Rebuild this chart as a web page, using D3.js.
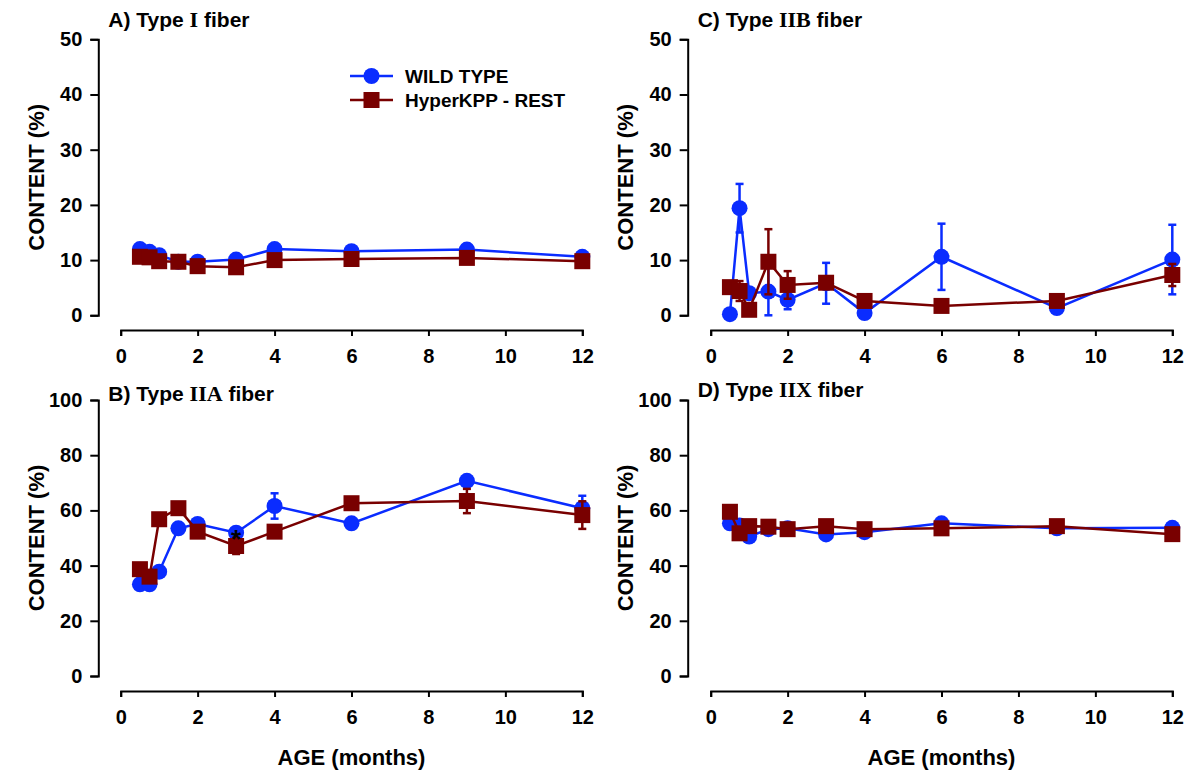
<!DOCTYPE html>
<html lang="en">
<head>
<meta charset="utf-8">
<title>Fiber type content by age</title>
<script src="https://d3js.org/d3.v7.min.js"></script>
<style>
body { margin: 0; background: #fff; }
svg { display: block; font-family: "Liberation Sans", Arial, sans-serif; font-weight: bold; }
.axis path, .axis line { stroke: #000; stroke-width: 2; }
.axis text { font-size: 20px; font-weight: bold; fill: #000; }
</style>
</head>
<body>
<script>

// ages (months)
var ages = [0.5, 0.75, 1, 1.5, 2, 3, 4, 6, 9, 12];
var xTicks = [0, 2, 4, 6, 8, 10, 12];

// A) Type I
var wtI = [12.0, 11.5, 10.9, 9.7, 9.7, 10.1, 12.0, 11.6, 11.9, 10.6];
var hkI = [10.6, 10.5, 9.8, 9.7, 8.9, 8.7, 10.0, 10.2, 10.4, 9.8];
// C) Type IIB
var wtIIB = [0.2, 19.4, 4.0, 4.3, 2.8, 5.8, 0.4, 10.6, 1.3, 10.1];
var wtIIBerr = [0, 4.4, 0, 4.3, 1.7, 3.7, 0, 6.0, 0, 6.3];
var hkIIB = [5.1, 4.4, 1.0, 9.7, 5.5, 5.9, 2.6, 1.7, 2.6, 7.3];
var hkIIBerr = [0, 1.8, 0, 5.9, 2.5, 0.8, 0, 0, 0, 2.0];
// B) Type IIA
var wtIIA = [33.2, 33.2, 37.8, 53.5, 55.1, 51.9, 61.6, 55.3, 70.7, 60.8];
var wtIIAerr = [0, 0, 0, 0, 0, 0, 4.6, 0, 0, 4.5];
var hkIIA = [38.7, 36.0, 56.8, 60.8, 52.3, 47.1, 52.3, 62.6, 63.4, 58.3];
var hkIIAerr = [0, 0, 0, 0, 0, 2.9, 0, 2.0, 4.4, 5.0];
// D) Type IIX
var wtIIX = [55.3, 54.5, 50.5, 53.2, 53.5, 51.3, 52.1, 55.3, 53.5, 53.7];
var hkIIX = [59.5, 51.7, 54.3, 54.1, 53.2, 54.3, 53.2, 53.5, 54.3, 51.4];

var zeros = ages.map(function() { return 0; });

var blue = "#0a2cff";
var red = "#790000";

var w = 1194, h = 774;

var svg = d3.select("body")
	.append("svg")
	.attr("width", w)
	.attr("height", h);

function drawPanel(p) {
	var x = d3.scaleLinear().domain([0, 12]).range([p.x0, p.x0 + 461.6]);
	var y = d3.scaleLinear().domain([0, p.ymax]).range([p.yb, p.yt]);

	// y axis
	svg.append("g")
		.attr("class", "axis")
		.attr("transform", "translate(" + p.ax + ",0)")
		.call(d3.axisLeft(y).tickValues(p.yTicks).tickSize(8).tickPadding(8).tickSizeOuter(8));

	// x axis (offset below plot)
	svg.append("g")
		.attr("class", "axis")
		.attr("transform", "translate(0," + p.xa + ")")
		.call(d3.axisBottom(x).tickValues(xTicks).tickSize(6).tickPadding(13).tickSizeOuter(6));

	// y label
	svg.append("text")
		.attr("transform", "translate(" + (p.ax - 62) + "," + ((p.yt + p.yb) / 2) + ") rotate(-90)")
		.attr("text-anchor", "middle")
		.attr("dy", "0.35em")
		.attr("font-size", "22px")
		.text("CONTENT (%)");

	// title
	var t = svg.append("text")
		.attr("x", p.ax + 10)
		.attr("y", p.ty)
		.attr("font-size", "21px");
	t.append("tspan").text(p.letter + " Type ");
	t.append("tspan").attr("font-family", "'Liberation Serif', 'Times New Roman', serif").attr("font-size", "22px").text(p.roman);
	t.append("tspan").text(" fiber");

	var series = [
		{ vals: p.wt, err: p.wtErr, color: blue, shape: "circle" },
		{ vals: p.hk, err: p.hkErr, color: red, shape: "square" }
	];

	series.forEach(function(s) {
		var pts = ages.map(function(a, i) { return { a: a, v: s.vals[i], e: s.err[i] }; });
		var g = svg.append("g");

		g.append("path")
			.datum(pts)
			.attr("fill", "none")
			.attr("stroke", s.color)
			.attr("stroke-width", 2.5)
			.attr("d", d3.line().x(function(d) { return x(d.a); }).y(function(d) { return y(d.v); }));

		var eb = g.selectAll(".eb")
			.data(pts.filter(function(d) { return d.e > 0; }))
			.enter().append("g")
			.attr("stroke", s.color)
			.attr("stroke-width", 2.5);
		eb.append("line")
			.attr("x1", function(d) { return x(d.a); })
			.attr("x2", function(d) { return x(d.a); })
			.attr("y1", function(d) { return y(d.v - d.e); })
			.attr("y2", function(d) { return y(d.v + d.e); });
		[-1, 1].forEach(function(sgn) {
			eb.append("line")
				.attr("x1", function(d) { return x(d.a) - 4; })
				.attr("x2", function(d) { return x(d.a) + 4; })
				.attr("y1", function(d) { return y(d.v + sgn * d.e); })
				.attr("y2", function(d) { return y(d.v + sgn * d.e); });
		});

		if (s.shape === "circle") {
			g.selectAll(".pt")
				.data(pts)
				.enter().append("circle")
				.attr("cx", function(d) { return x(d.a); })
				.attr("cy", function(d) { return y(d.v); })
				.attr("r", 8)
				.attr("fill", s.color);
		} else {
			g.selectAll(".pt")
				.data(pts)
				.enter().append("rect")
				.attr("x", function(d) { return x(d.a) - 8; })
				.attr("y", function(d) { return y(d.v) - 8; })
				.attr("width", 16)
				.attr("height", 16)
				.attr("fill", s.color);
		}
	});

	return { x: x, y: y };
}

drawPanel({ letter: "A)", roman: "I", x0: 120.7, ax: 98.3, yt: 39.3, yb: 315.3, xa: 330, ty: 27,
	ymax: 50, yTicks: [0, 10, 20, 30, 40, 50], wt: wtI, wtErr: zeros, hk: hkI, hkErr: zeros });
drawPanel({ letter: "C)", roman: "IIB", x0: 710.7, ax: 687.7, yt: 39.3, yb: 315.3, xa: 330, ty: 27,
	ymax: 50, yTicks: [0, 10, 20, 30, 40, 50], wt: wtIIB, wtErr: wtIIBerr, hk: hkIIB, hkErr: hkIIBerr });
var pB = drawPanel({ letter: "B)", roman: "IIA", x0: 120.7, ax: 98.3, yt: 400, yb: 676, xa: 691, ty: 401,
	ymax: 100, yTicks: [0, 20, 40, 60, 80, 100], wt: wtIIA, wtErr: wtIIAerr, hk: hkIIA, hkErr: hkIIAerr });
drawPanel({ letter: "D)", roman: "IIX", x0: 710.7, ax: 687.7, yt: 400, yb: 676, xa: 691, ty: 397,
	ymax: 100, yTicks: [0, 20, 40, 60, 80, 100], wt: wtIIX, wtErr: zeros, hk: hkIIX, hkErr: zeros });

// significance mark at 3 months, panel B
svg.append("text")
	.attr("x", pB.x(3))
	.attr("y", pB.y(47.1) + 2)
	.attr("text-anchor", "middle")
	.attr("font-size", "26px")
	.attr("fill", "#000")
	.text("*");

// x axis labels
[351.5, 941.5].forEach(function(cx) {
	svg.append("text")
		.attr("x", cx)
		.attr("y", 757)
		.attr("text-anchor", "middle")
		.attr("dy", "0.35em")
		.attr("font-size", "22px")
		.text("AGE (months)");
});

// legend
var legend = svg.append("g").attr("transform", "translate(350,76)");
var legItems = [
	{ name: "WILD TYPE", color: blue, shape: "circle" },
	{ name: "HyperKPP - REST", color: red, shape: "square" }
];
legItems.forEach(function(d, i) {
	var g = legend.append("g").attr("transform", "translate(0," + i * 24 + ")");
	g.append("line").attr("x1", 0).attr("x2", 43).attr("stroke", d.color).attr("stroke-width", 2.5);
	if (d.shape === "circle") {
		g.append("circle").attr("cx", 21.5).attr("r", 8).attr("fill", d.color);
	} else {
		g.append("rect").attr("x", 13.5).attr("y", -8).attr("width", 16).attr("height", 16).attr("fill", d.color);
	}
	g.append("text").attr("x", 55).attr("dy", "0.35em").attr("font-size", "19px").text(d.name);
});

</script>
</body>
</html>
